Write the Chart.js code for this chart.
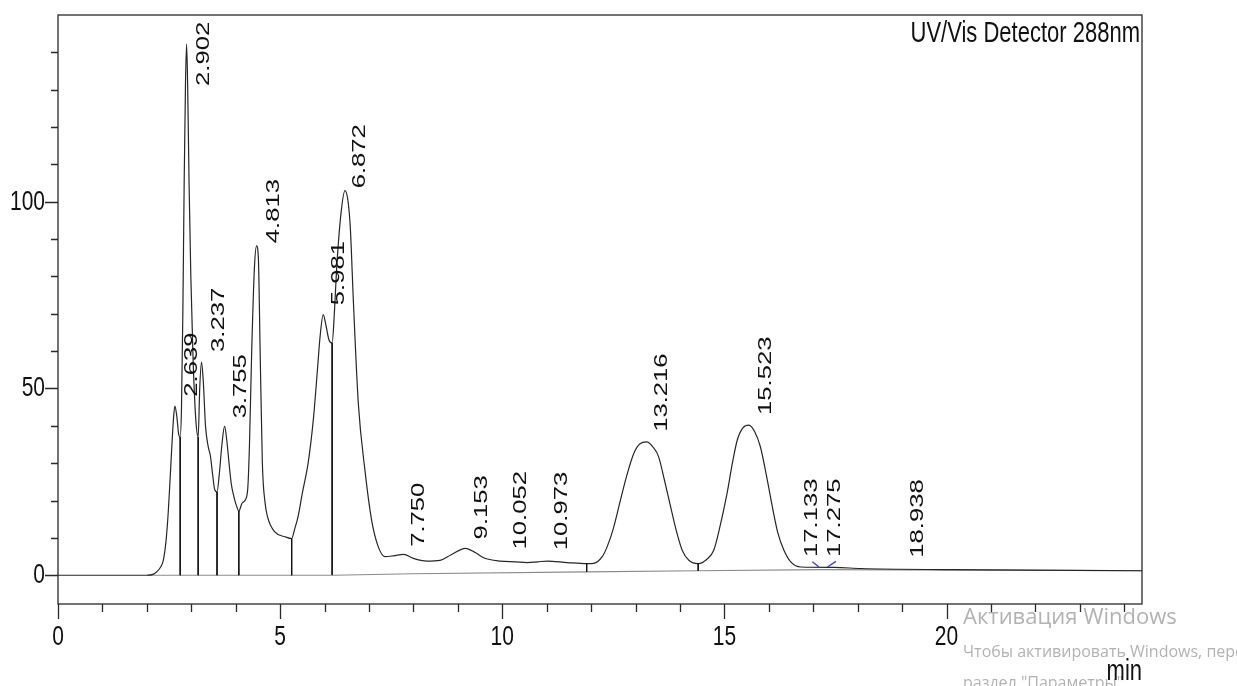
<!DOCTYPE html>
<html>
<head>
<meta charset="utf-8">
<script src="https://cdn.jsdelivr.net/npm/chart.js@4.4.1/dist/chart.umd.min.js"></script>
<style>
  html, body { margin: 0; padding: 0; background: #fff; }
  canvas { display: block; }
</style>
</head>
<body>
<canvas id="chromatogram" width="1237" height="686"></canvas>
<script>
// retention time (min) and detector signal
const timeMin = [0, 2.0, 2.15, 2.22, 2.30, 2.37, 2.43, 2.48, 2.52, 2.56, 2.60, 2.63, 2.67, 2.72, 2.75,
  2.78, 2.81, 2.84, 2.87, 2.895, 2.92, 2.95, 2.99, 3.04, 3.10, 3.155, 3.19, 3.23, 3.27, 3.32, 3.38,
  3.43, 3.48, 3.53, 3.58, 3.63, 3.69, 3.75, 3.80, 3.85, 3.90, 3.96, 4.02, 4.07, 4.14, 4.21, 4.27,
  4.31, 4.36, 4.42, 4.47, 4.51, 4.55, 4.60, 4.66, 4.72, 4.88, 5.11, 5.26, 5.33, 5.40, 5.50, 5.63,
  5.75, 5.84, 5.90, 5.97, 6.03, 6.10, 6.17, 6.22, 6.27, 6.37, 6.46, 6.53, 6.58, 6.65, 6.76, 6.91,
  7.06, 7.21, 7.36, 7.55, 7.78, 8.0, 8.30, 8.6, 8.85, 9.17, 9.40, 9.58, 9.95, 10.3, 10.56, 10.8,
  11.01, 11.46, 11.9, 12.06, 12.25, 12.36, 12.5, 12.66, 12.81, 12.96, 13.1, 13.25, 13.4, 13.52,
  13.65, 13.79, 13.92, 14.05, 14.2, 14.41, 14.6, 14.76, 14.9, 15.06, 15.18, 15.29, 15.42, 15.55,
  15.68, 15.81, 15.95, 16.08, 16.2, 16.34, 16.5, 16.72, 17.47, 18.07, 20.0, 24.4];
const signal = [0, 0, 0.3, 0.9, 2.0, 4.0, 9, 16.6, 25, 34, 42, 45.3, 43, 37.5, 37,
  45, 70, 105, 132, 142.2, 130, 105, 80, 58, 42, 37, 50, 57.1, 52, 40, 34.5,
  32, 27, 22.8, 22.3, 27, 35, 39.9, 36, 30, 24.5, 21, 18.5, 17.2, 19.2, 20.1, 23,
  35, 60, 82, 88.2, 85, 60, 30, 19.5, 15.5, 11.6, 10.3, 9.8, 12.5, 15.5, 22, 30,
  42, 55, 64, 69.8, 67, 63, 62.2, 70, 81.7, 96.9, 103, 100, 93, 73, 46, 28,
  14.7, 7.6, 5.0, 5.2, 5.6, 4.5, 3.8, 4.0, 5.5, 7.2, 6.0, 4.7, 3.8, 3.6, 3.4, 3.6,
  3.8, 3.4, 3.1, 3.2, 5.0, 7.6, 12.5, 20.1, 27, 32.6, 35.2, 35.7, 34.2, 31.7,
  25.5, 18.3, 11.8, 6.7, 4.0, 3.1, 4.2, 6.7, 13, 21.9, 30, 36.2, 39.5, 40.2,
  38.5, 34.4, 26.5, 18.3, 11.5, 6.7, 3.5, 2.2, 2.1, 1.8, 1.5, 1.2];

// integration baseline
const baseTime = [2.0, 6.2, 8.0, 11.9, 14.4, 17.2, 24.4];
const baseSignal = [0, 0, 0.4, 0.9, 1.2, 1.5, 1.2];

// peak separation drop lines
const dropTime = [2.75, 3.155, 3.58, 4.07, 5.26, 6.17, 11.9, 14.41];
const dropTop = [37, 37, 22.3, 17.2, 9.8, 62.2, 3.1, 3.1];
const dropBottom = [0, 0, 0, 0, 0, 0.1, 0.9, 1.2];

// blue peak start / end marks near 17 min
const markTime = [16.98, 17.13, null, 17.32, 17.51];
const markSignal = [3.6, 2.2, null, 2.2, 3.7];

// peak labels (text, x of label centre, y of the text start)
const peakNames = ['2.902', '2.639', '3.237', '3.755', '4.813', '5.981', '6.872', '7.750', '9.153',
  '10.052', '10.973', '13.216', '15.523', '17.133', '17.275', '18.938'];
const peakLabelX = [3.27, 3.01, 3.61, 4.11, 4.85, 6.33, 6.80, 8.11, 9.54, 10.41, 11.35, 13.60, 15.93,
  16.96, 17.49, 19.35];
const peakLabelY = [131.0, 47.8, 59.8, 42.0, 88.9, 72.3, 103.6, 7.6, 9.6, 6.9, 6.7, 38.4, 42.9,
  4.9, 4.9, 4.7];

// axes
const xMin = 0, xMax = 24.4;
const yMin = -7.7, yMax = 150;
const xTickLabels = [0, 5, 10, 15, 20];
const yTickLabels = [0, 50, 100];

const toPoints = (xs, ys) => xs.map((x, i) => ({ x: x, y: ys[i] }));

let dropPoints = [];
dropTime.forEach((t, i) => {
  dropPoints.push({ x: t, y: dropTop[i] });
  dropPoints.push({ x: t, y: dropBottom[i] });
  dropPoints.push({ x: t, y: null });
});

const STRETCH = 1.35; // the source plot text is tall and narrow
const FONT = '"Liberation Sans", Arial, sans-serif';

const frameAndText = {
  id: 'frameAndText',
  afterDraw(chart) {
    const ctx = chart.ctx;
    const { left, right, top, bottom } = chart.chartArea;
    const xs = chart.scales.x;
    const ys = chart.scales.y;
    ctx.save();

    // frame
    ctx.strokeStyle = '#2a2a2a';
    ctx.lineWidth = 1.3;
    ctx.strokeRect(left, top, right - left, bottom - top);

    // tick marks
    ctx.beginPath();
    for (let v = 0; v <= 140; v += 10) {
      const y = Math.round(ys.getPixelForValue(v)) + 0.5;
      const len = v % 50 === 0 ? 13 : 7;
      ctx.moveTo(left, y);
      ctx.lineTo(left - len, y);
    }
    for (let v = 0; v <= 24; v += 1) {
      const x = Math.round(xs.getPixelForValue(v)) + 0.5;
      const len = v % 5 === 0 ? 15 : 8;
      ctx.moveTo(x, bottom);
      ctx.lineTo(x, bottom + len);
    }
    ctx.stroke();

    const stretchedText = (text, x, y, size, align, baseline, rotate) => {
      ctx.save();
      ctx.translate(x, y);
      ctx.scale(1, STRETCH);
      if (rotate) ctx.rotate(-Math.PI / 2);
      ctx.font = size + 'px ' + FONT;
      ctx.textAlign = align;
      ctx.textBaseline = baseline;
      ctx.fillText(text, 0, 0);
      ctx.restore();
    };

    ctx.fillStyle = '#111';
    yTickLabels.forEach((v) => {
      stretchedText(String(v), 45, ys.getPixelForValue(v), 21, 'right', 'middle');
    });
    xTickLabels.forEach((v) => {
      stretchedText(String(v), xs.getPixelForValue(v), 637, 21, 'center', 'middle');
    });

    stretchedText('UV/Vis Detector 288nm', right - 2, 42, 22, 'right', 'alphabetic');

    peakNames.forEach((name, i) => {
      stretchedText(name, xs.getPixelForValue(peakLabelX[i]), ys.getPixelForValue(peakLabelY[i]),
        19, 'left', 'middle', true);
    });

    // windows activation watermark sitting over the screenshot
    ctx.fillStyle = 'rgba(165,165,165,0.85)';
    ctx.textAlign = 'left';
    ctx.textBaseline = 'alphabetic';
    ctx.font = '22px "Open Sans", sans-serif';
    ctx.fillText('Активация Windows', 963, 624);
    ctx.font = '16px "Open Sans", sans-serif';
    ctx.fillText('Чтобы активировать Windows, перейдите в', 963, 657);
    ctx.fillText('раздел "Параметры".', 963, 688);

    ctx.fillStyle = '#111';
    stretchedText('min', right, 680, 22, 'right', 'alphabetic');

    ctx.restore();
  }
};

new Chart(document.getElementById('chromatogram'), {
  type: 'line',
  data: {
    datasets: [
      {
        label: 'marks',
        data: toPoints(markTime, markSignal),
        borderColor: '#3a3aff',
        borderWidth: 1.4,
        pointRadius: 0,
        spanGaps: false,
      },
      {
        label: 'drop lines',
        data: dropPoints,
        borderColor: '#111',
        borderWidth: 1,
        pointRadius: 0,
        spanGaps: false,
      },
      {
        label: 'signal',
        data: toPoints(timeMin, signal),
        borderColor: '#262626',
        borderWidth: 1.2,
        pointRadius: 0,
        cubicInterpolationMode: 'monotone',
      },
      {
        label: 'baseline',
        data: toPoints(baseTime, baseSignal),
        borderColor: '#8a8a8a',
        borderWidth: 1.2,
        pointRadius: 0,
      },
    ],
  },
  options: {
    responsive: false,
    animation: false,
    devicePixelRatio: 1,
    layout: { padding: { left: 58, top: 15, right: 95, bottom: 82 } },
    plugins: {
      legend: { display: false },
      tooltip: { enabled: false },
    },
    scales: {
      x: { type: 'linear', min: xMin, max: xMax, display: false },
      y: { type: 'linear', min: yMin, max: yMax, display: false },
    },
  },
  plugins: [frameAndText],
});
</script>
</body>
</html>
